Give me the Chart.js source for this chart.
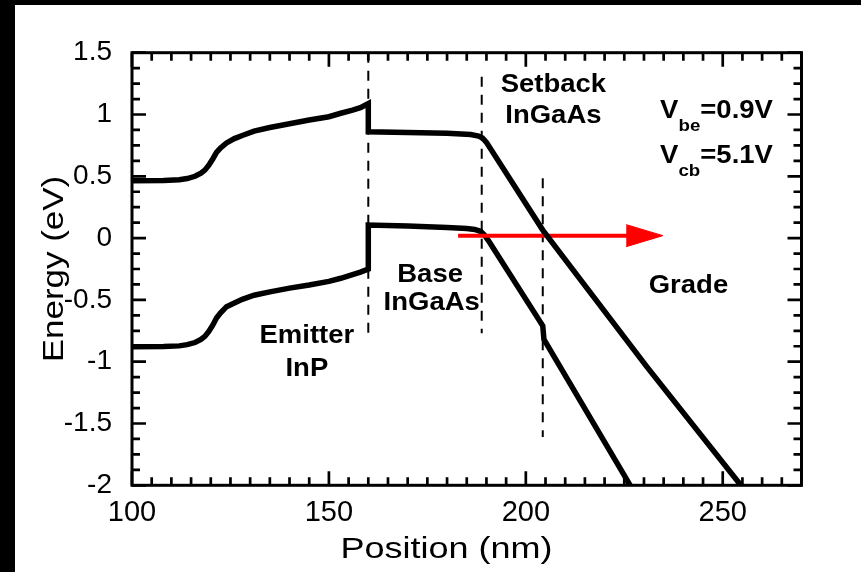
<!DOCTYPE html>
<html>
<head>
<meta charset="utf-8">
<script src="https://cdn.jsdelivr.net/npm/chart.js@4.4.1/dist/chart.umd.min.js"></script>
<style>
  body { margin: 0; background: #fff; }
  canvas { display: block; }
</style>
</head>
<body>
<canvas id="chart" width="861" height="572"></canvas>
<script>
// conduction band (upper curve)
const cbPos = [100, 108, 112, 114, 116, 117.5, 118.5, 119.5, 120.5, 121.5, 122.5, 124, 126, 128, 131, 135, 140, 145, 150, 153, 156, 158, 160,
               160, 170, 180, 186, 188, 189, 190, 204.3, 230.7, 254.6];
const cbEnergy = [0.464, 0.466, 0.472, 0.482, 0.500, 0.525, 0.550, 0.590, 0.640, 0.695, 0.730, 0.770, 0.805, 0.830, 0.865, 0.895, 0.925, 0.955, 0.982, 1.010, 1.035, 1.055, 1.088,
                  0.860, 0.855, 0.848, 0.838, 0.825, 0.810, 0.775, 0.065, -1.040, -2.0];

// valence band (lower curve)
const vbPos = [100, 108, 112, 114, 116, 117.5, 118.5, 119.5, 120.5, 121.5, 122.5, 124, 126, 128, 131, 135, 140, 145, 150, 153, 156, 158, 160,
               160, 170, 180, 185, 187, 188.5, 189.5, 190.5, 204.3, 204.6, 226.5];
const vbEnergy = [-0.879, -0.877, -0.872, -0.862, -0.845, -0.820, -0.795, -0.755, -0.705, -0.645, -0.605, -0.555, -0.525, -0.495, -0.462, -0.435, -0.405, -0.380, -0.350, -0.325, -0.295, -0.275, -0.250,
                  0.105, 0.098, 0.085, 0.078, 0.070, 0.055, 0.025, -0.020, -0.710, -0.820, -2.0];

// layer boundaries (dashed)
const dashPos = [160, 188.8, 204.3];
const dashTop = [1.5, 1.305, 0.485];
const dashBottom = [-0.77, -0.77, -1.61];

// red arrow
const arrowPos = [182.8, 226];
const arrowEnergy = [0.02, 0.02];
const headPos = [225.5, 234.8, 225.5];
const headEnergy = [0.109, 0.02, -0.069];

// axes
const xTickValues = [100, 150, 200, 250];
const xTickLabels = ['100', '150', '200', '250'];
const yTickValues = [-2, -1.5, -1, -0.5, 0, 0.5, 1, 1.5];
const yTickLabels = ['-2', '-1.5', '-1', '-0.5', '0', '0.5', '1', '1.5'];

// region labels: text, position (nm), energy (eV) of baseline
const regionText = ['Setback', 'InGaAs', 'Base', 'InGaAs', 'Emitter', 'InP', 'Grade'];
const regionPos = [207.0, 207.0, 175.7, 176.1, 144.4, 144.4, 241.3];
const regionEnergy = [1.184, 0.934, -0.353, -0.582, -0.851, -1.116, -0.447];

const FONT = '"Liberation Sans", Arial, Helvetica, sans-serif';

function pts(xs, ys) {
    return xs.map((x, i) => ({ x: x, y: ys[i] }));
}

let datasets = [
    { data: pts(cbPos, cbEnergy), borderColor: '#000', borderWidth: 5.5, pointRadius: 0, order: 0 },
    { data: pts(arrowPos, arrowEnergy), borderColor: '#ff0000', borderWidth: 4, pointRadius: 0, order: 1 },
    { data: pts(headPos, headEnergy), borderColor: '#ff0000', backgroundColor: '#ff0000', borderWidth: 1, pointRadius: 0, fill: 'shape', order: 1 },
    { data: pts(vbPos, vbEnergy), borderColor: '#000', borderWidth: 5.5, pointRadius: 0, order: 2 }
];
dashPos.forEach(function(p, i) {
    datasets.push({
        data: [{ x: p, y: dashTop[i] }, { x: p, y: dashBottom[i] }],
        borderColor: '#000', borderWidth: 2, borderDash: [10, 8], pointRadius: 0, order: 3
    });
});

function stretchText(ctx, text, x, y, font, sx, align) {
    ctx.save();
    ctx.font = font;
    ctx.translate(x, y);
    ctx.scale(sx, 1);
    ctx.textAlign = align;
    ctx.textBaseline = 'alphabetic';
    ctx.fillText(text, 0, 0);
    ctx.restore();
}

// V with subscript, then the rest of the label
function voltageText(ctx, x, y, sub, rest) {
    const big = 'bold 25px ' + FONT;
    const small = 'bold 17px ' + FONT;
    const sx = 1.1;
    ctx.save();
    ctx.font = big;
    const wV = ctx.measureText('V').width * sx;
    ctx.font = small;
    const wSub = ctx.measureText(sub).width * sx;
    ctx.restore();
    stretchText(ctx, 'V', x, y, big, sx, 'left');
    stretchText(ctx, sub, x + wV, y + 13, small, sx, 'left');
    stretchText(ctx, rest, x + wV + wSub, y, big, sx, 'left');
}

const framePlugin = {
    id: 'frame',
    beforeDraw(chart) {
        const ctx = chart.ctx;
        ctx.save();
        ctx.fillStyle = '#fff';
        ctx.fillRect(0, 0, chart.width, chart.height);
        ctx.fillStyle = '#000';
        ctx.fillRect(0, 0, 15, chart.height);
        ctx.fillRect(0, 0, chart.width, 5);
        ctx.restore();
    },
    afterDatasetsDraw(chart) {
        const ctx = chart.ctx;
        const a = chart.chartArea;
        const xs = chart.scales.x;
        const ys = chart.scales.y;
        ctx.save();
        ctx.strokeStyle = '#000';
        ctx.fillStyle = '#000';

        // inward ticks on all four sides
        ctx.lineWidth = 2.7;
        ctx.beginPath();
        for (let i = 0; i <= 34; i++) {
            const v = 100 + 5 * i;
            const px = xs.getPixelForValue(v);
            const len = (i % 10 === 0) ? 14 : 8;
            ctx.moveTo(px, a.bottom); ctx.lineTo(px, a.bottom - len);
            ctx.moveTo(px, a.top); ctx.lineTo(px, a.top + len);
        }
        for (let i = 0; i <= 28; i++) {
            const v = -2 + 0.125 * i;
            const py = ys.getPixelForValue(v);
            const len = (i % 4 === 0) ? 14 : 8;
            ctx.moveTo(a.left, py); ctx.lineTo(a.left + len, py);
            ctx.moveTo(a.right, py); ctx.lineTo(a.right - len, py);
        }
        ctx.stroke();

        // box
        ctx.lineWidth = 3;
        ctx.strokeRect(a.left, a.top, a.right - a.left, a.bottom - a.top);

        // region labels
        regionText.forEach(function(t, i) {
            stretchText(ctx, t, xs.getPixelForValue(regionPos[i]), ys.getPixelForValue(regionEnergy[i]),
                'bold 25px ' + FONT, 1.1, 'center');
        });
        voltageText(ctx, xs.getPixelForValue(234.1), ys.getPixelForValue(0.969), 'be', '=0.9V');
        voltageText(ctx, xs.getPixelForValue(234.1), ys.getPixelForValue(0.605), 'cb', '=5.1V');

        // axis titles
        stretchText(ctx, 'Position (nm)', 446.5, 558.3, '30px ' + FONT, 1.2, 'center');
        ctx.save();
        ctx.translate(63.3, (a.top + a.bottom) / 2);
        ctx.rotate(-Math.PI / 2);
        stretchText(ctx, 'Energy (eV)', 0, 0, '30px ' + FONT, 1.165, 'center');
        ctx.restore();

        ctx.restore();
    }
};

new Chart(document.getElementById('chart'), {
    type: 'line',
    data: { datasets: datasets },
    plugins: [framePlugin],
    options: {
        responsive: false,
        animation: false,
        layout: { padding: { top: 52.7, right: 59.5, left: 0, bottom: 0 } },
        plugins: {
            legend: { display: false },
            tooltip: { enabled: false }
        },
        scales: {
            x: {
                type: 'linear',
                min: 100,
                max: 270,
                grid: { display: false, drawTicks: false },
                border: { display: false },
                afterBuildTicks: function(scale) {
                    scale.ticks = xTickValues.map(v => ({ value: v }));
                },
                afterFit: function(scale) { scale.height = 86.7; },
                ticks: {
                    autoSkip: false,
                    maxRotation: 0,
                    padding: 10,
                    color: '#000',
                    font: { family: FONT, size: 29 },
                    callback: (v, i) => xTickLabels[i]
                }
            },
            y: {
                type: 'linear',
                min: -2,
                max: 1.5,
                grid: { display: false, drawTicks: false },
                border: { display: false },
                afterBuildTicks: function(scale) {
                    scale.ticks = yTickValues.map(v => ({ value: v }));
                },
                afterFit: function(scale) { scale.width = 132; },
                ticks: {
                    autoSkip: false,
                    padding: 20,
                    color: '#000',
                    font: { family: FONT, size: 28 },
                    callback: (v, i) => yTickLabels[i]
                }
            }
        }
    }
});
</script>
</body>
</html>
